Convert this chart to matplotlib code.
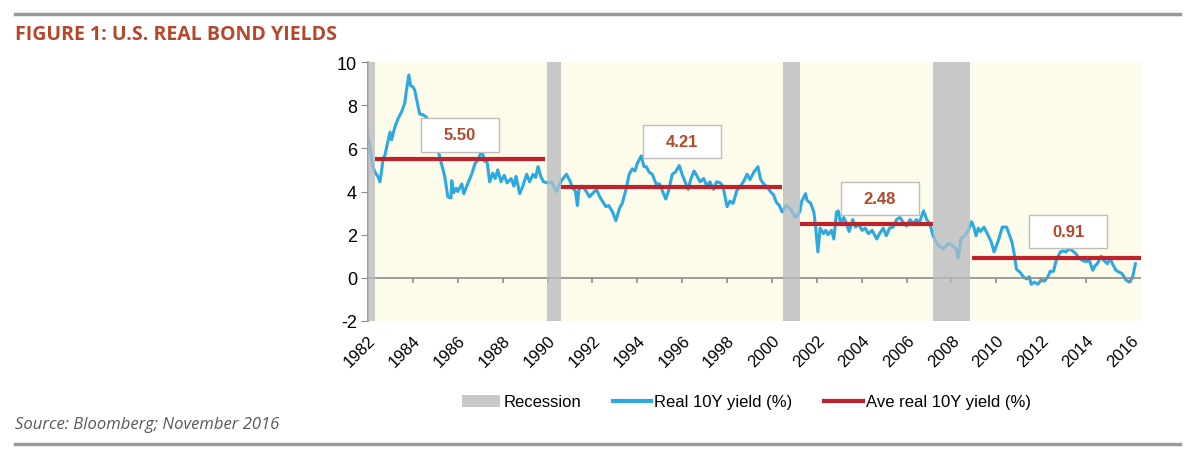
import matplotlib.pyplot as plt
from matplotlib.patches import Patch, Rectangle
from matplotlib.lines import Line2D

plt.rcParams['axes.unicode_minus'] = False

# real 10Y yield
dates = [1982.0, 1982.1, 1982.2, 1982.31, 1982.44, 1982.53, 1982.6, 1982.67, 1982.76, 1982.84,
         1982.98, 1983.05, 1983.2, 1983.33, 1983.5, 1983.64, 1983.7, 1983.82, 1983.9, 1984.0,
         1984.08, 1984.2, 1984.3, 1984.45, 1984.6, 1984.75, 1984.9, 1985.05, 1985.15, 1985.3,
         1985.42, 1985.56, 1985.7, 1985.73, 1985.82, 1985.93, 1986.0, 1986.18, 1986.27, 1986.44,
         1986.62, 1986.77, 1986.9, 1987.07, 1987.2, 1987.3, 1987.42, 1987.56, 1987.67, 1987.78,
         1987.93, 1988.07, 1988.2, 1988.38, 1988.5, 1988.6, 1988.76, 1988.9, 1989.07, 1989.2,
         1989.36, 1989.47, 1989.58, 1989.7, 1989.82, 1990.0, 1990.18, 1990.4, 1990.62, 1990.84,
         1991.0, 1991.1, 1991.25, 1991.33, 1991.4, 1991.55, 1991.7, 1991.87, 1992.0, 1992.18,
         1992.33, 1992.45, 1992.6, 1992.73, 1992.9, 1993.05, 1993.2, 1993.33, 1993.5, 1993.64,
         1993.78, 1993.9, 1994.0, 1994.18, 1994.3, 1994.4, 1994.53, 1994.67, 1994.84, 1995.0,
         1995.13, 1995.27, 1995.4, 1995.56, 1995.7, 1995.87, 1996.0, 1996.13, 1996.27, 1996.38,
         1996.53, 1996.67, 1996.8, 1996.96, 1997.1, 1997.24, 1997.4, 1997.53, 1997.7, 1997.82,
         1998.0, 1998.13, 1998.27, 1998.44, 1998.6, 1998.73, 1998.9, 1999.02, 1999.2, 1999.38,
         1999.5, 1999.64, 1999.8, 1999.93, 2000.07, 2000.2, 2000.33, 2000.46, 2000.64, 2000.86,
         2001.05, 2001.24, 2001.33, 2001.5, 2001.56, 2001.73, 2001.87, 2001.95, 2002.05, 2002.15,
         2002.3, 2002.4, 2002.5, 2002.65, 2002.76, 2002.88, 2002.96, 2003.07, 2003.2, 2003.33,
         2003.44, 2003.6, 2003.73, 2003.87, 2004.02, 2004.16, 2004.3, 2004.47, 2004.67, 2004.8,
         2004.96, 2005.1, 2005.24, 2005.4, 2005.56, 2005.7, 2005.87, 2006.0, 2006.16, 2006.3,
         2006.44, 2006.55, 2006.76, 2006.9, 2007.04, 2007.2, 2007.42, 2007.64, 2007.87, 2008.1,
         2008.24, 2008.3, 2008.42, 2008.6, 2008.76, 2008.9, 2009.0, 2009.1, 2009.2, 2009.3,
         2009.45, 2009.6, 2009.78, 2009.9, 2010.1, 2010.27, 2010.46, 2010.6, 2010.7, 2010.8,
         2010.9, 2011.07, 2011.2, 2011.35, 2011.47, 2011.56, 2011.7, 2011.85, 2012.0, 2012.15,
         2012.3, 2012.4, 2012.55, 2012.67, 2012.85, 2013.0, 2013.1, 2013.26, 2013.4, 2013.56,
         2013.7, 2013.85, 2014.0, 2014.15, 2014.3, 2014.4, 2014.5, 2014.67, 2014.8, 2014.95,
         2015.07, 2015.18, 2015.33, 2015.5, 2015.6, 2015.78, 2015.93, 2016.07, 2016.2]
yields = [6.6, 6.0, 5.2, 4.9, 4.7, 4.45, 4.9, 5.5, 5.7, 6.1,
          6.75, 6.4, 7.0, 7.35, 7.7, 8.1, 8.6, 9.4, 8.9, 8.85,
          8.7, 8.1, 7.6, 7.55, 7.45, 7.2, 6.8, 6.2, 5.8, 5.2,
          4.7, 3.75, 3.7, 4.5, 3.95, 4.15, 4.0, 4.35, 3.9, 4.35,
          4.8, 5.3, 5.45, 5.9, 5.4, 5.45, 4.45, 4.85, 4.6, 5.0,
          4.45, 4.75, 4.4, 4.6, 4.25, 4.7, 3.9, 4.25, 4.8, 4.45,
          4.8, 4.65, 5.15, 4.7, 4.45, 4.4, 4.45, 4.0, 4.5, 4.8,
          4.5, 4.2, 4.0, 3.35, 4.1, 4.25, 4.05, 3.75, 3.9, 4.1,
          3.75, 3.55, 3.3, 3.35, 3.05, 2.65, 3.2, 3.45, 4.1, 4.8,
          5.05, 4.95, 5.3, 5.65, 5.15, 5.15, 4.9, 4.8, 4.35, 4.35,
          4.0, 3.65, 4.05, 4.8, 4.9, 5.2, 4.8, 4.45, 4.1, 4.55,
          4.95, 4.7, 4.45, 4.6, 4.25, 4.45, 4.1, 4.45, 4.4, 4.25,
          3.3, 3.55, 3.45, 4.05, 4.25, 4.45, 4.8, 4.55, 4.9, 5.15,
          4.55, 4.35, 4.2, 4.0, 3.85, 3.5, 3.35, 3.05, 3.35, 3.15,
          2.8, 3.05, 3.55, 3.9, 3.6, 3.45, 3.05, 2.35, 1.2, 2.3,
          2.05, 2.2, 2.0, 2.2, 1.8, 3.05, 3.1, 2.5, 2.8, 2.5,
          2.15, 2.7, 2.35, 2.5, 2.2, 2.3, 2.05, 2.2, 1.8, 2.05,
          2.3, 1.95, 2.3, 2.35, 2.7, 2.8, 2.55, 2.4, 2.7, 2.5,
          2.7, 2.5, 3.1, 2.7, 2.5, 1.9, 1.5, 1.35, 1.6, 1.45,
          1.3, 0.9, 1.8, 1.95, 2.2, 2.6, 2.35, 1.95, 2.3, 2.15,
          2.35, 2.05, 1.65, 1.2, 1.75, 2.35, 2.35, 1.95, 1.65, 1.1,
          0.4, 0.25, 0.05, -0.05, 0.05, -0.3, -0.2, -0.3, -0.1, -0.15,
          0.05, 0.3, 0.3, 0.8, 1.2, 1.25, 1.2, 1.35, 1.25, 1.1,
          0.9, 0.8, 0.75, 0.8, 0.35, 0.55, 0.65, 1.0, 0.8, 0.65,
          0.9, 0.65, 0.35, 0.25, 0.2, -0.1, -0.2, 0.0, 0.65]

rec_start = [1982.0, 1989.96, 2000.49, 2007.2]
rec_end = [1982.31, 1990.58, 2001.24, 2008.84]

avg_values = [5.50, 4.21, 2.48, 0.91]
avg_start = [1982.31, 1990.58, 2001.24, 2008.9]
avg_end = [1989.9, 2000.46, 2007.2, 2016.45]
avg_labels = ['5.50', '4.21', '2.48', '0.91']

year_ticks = list(range(1982, 2017, 2))

blue = '#2DA9E1'
red = '#C0212B'
rust = '#B5482A'
band = '#C8C8C8'
axis_grey = '#8C8C8C'

fig = plt.figure(figsize=(12, 4.64), dpi=100)
ax = fig.add_axes([368/1200, 1 - 322/464, (1141 - 368)/1200, (322 - 63)/464])
ax.set_facecolor('#FDFBE9')

for s, e in zip(rec_start, rec_end):
    ax.axvspan(s, e, color=band, lw=0, zorder=1)

ax.plot(dates, yields, color=blue, lw=2.2, zorder=2)

# fade the line where it runs through a recession
for s, e in zip(rec_start, rec_end):
    ax.axvspan(s, e, color=band, alpha=0.6, lw=0, zorder=3)

for v, s, e in zip(avg_values, avg_start, avg_end):
    ax.plot([s, e], [v, v], color=red, lw=3, solid_capstyle='butt', zorder=4)

# value boxes
label_x = [1986.09, 1996.0, 2004.8, 2013.2]
label_y = [6.62, 6.30, 3.66, 2.13]
for cx, cy, t in zip(label_x, label_y, avg_labels):
    ax.add_patch(Rectangle((cx - 1.74, cy - 0.77), 3.48, 1.54, facecolor='white',
                           edgecolor='#BDBDBD', lw=1, zorder=5))
    ax.text(cx, cy, t, ha='center', va='center', color=rust, fontsize=12,
            fontweight='bold', family='Liberation Sans', zorder=6)

ax.set_xlim(1982, 2016.45)
ax.set_ylim(-2, 10)
ax.set_yticks(range(-2, 11, 2))
ax.set_xticks(year_ticks)
ax.set_xticklabels([str(y) for y in year_ticks], rotation=45, ha='right',
                   rotation_mode='anchor')
ax.tick_params(axis='x', length=0, pad=8, labelsize=12)
ax.tick_params(axis='y', length=5, color=axis_grey, labelsize=13, pad=3)
for lab in ax.get_xticklabels() + ax.get_yticklabels():
    lab.set_family('Liberation Sans')

for side in ['top', 'right', 'bottom']:
    ax.spines[side].set_visible(False)
ax.spines['left'].set_color(axis_grey)
ax.spines['left'].set_linewidth(1.2)

# zero line with the year ticks hanging below it
ax.axhline(0, color=axis_grey, lw=1.2, zorder=2.5)
ax.vlines(year_ticks, -0.24, 0, color=axis_grey, lw=1.2, zorder=2.5)
ax.axhline(-2, color='#E6E2CC', lw=0.8, ls=':', zorder=0.5)

handles = [Patch(facecolor=band, edgecolor='none'),
           Line2D([], [], color=blue, lw=3),
           Line2D([], [], color=red, lw=3)]
fig.legend(handles, ['Recession', 'Real 10Y yield (%)', 'Ave real 10Y yield (%)'],
           loc='center', bbox_to_anchor=(0.622, 1 - 403/464), ncol=3, frameon=False,
           prop={'family': 'Liberation Sans', 'size': 12}, handlelength=2.3,
           handletextpad=0.2, columnspacing=1.9)

fig.add_artist(Line2D([15/1200, 1180/1200], [1 - 15/464] * 2, transform=fig.transFigure,
                      color='#9A9A9A', lw=2.5))
fig.add_artist(Line2D([15/1200, 1180/1200], [1 - 445/464] * 2, transform=fig.transFigure,
                      color='#9A9A9A', lw=2.5))

fig.text(15/1200, 1 - 35/464, 'FIGURE 1: U.S. REAL BOND YIELDS', color=rust,
         fontsize=14, fontweight='bold', family='Open Sans', va='center')
fig.text(15/1200, 1 - 425/464, 'Source: Bloomberg; November 2016', color='#595959',
         fontsize=12, style='italic', family='Open Sans', va='center')

fig.savefig('out.png', dpi=100)
